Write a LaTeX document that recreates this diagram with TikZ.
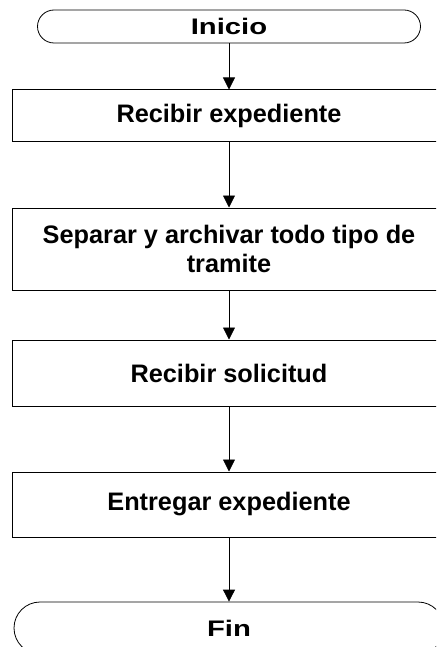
\documentclass[tikz,border=0pt]{standalone}
\usepackage{fontspec}
\setmainfont{Liberation Sans}
\newfontfamily\termfont[FakeStretch=1.3]{Liberation Sans}
\usetikzlibrary{arrows.meta}
\begin{document}
\begin{tikzpicture}[x=1pt, y=1pt, node distance=128pt]
        \tikzstyle{box} = [draw, line width=1pt, rectangle, minimum width=434pt, align=center, font=\fontsize{25.3}{29}\selectfont\bfseries];
        \tikzstyle{term} = [draw, line width=0.8pt, rectangle, font=\termfont\fontsize{22.5}{26}\selectfont\bfseries];
        \tikzstyle{flow} = [-{Triangle[width=12pt, length=12pt]}, line width=0.8pt];

        \useasboundingbox (0,0) rectangle (436,-647);
        \clip (0,0) rectangle (436,-647);

        \node(inicio)[term, rounded corners=16.5pt, minimum width=383pt, minimum height=33pt] at (229,-26.5){Inicio};
        \node(recibir)[box, below of=inicio, yshift=38.5pt, minimum height=52pt]{Recibir expediente};
        \node(separar)[box, below of=recibir, yshift=-5pt, minimum height=82pt]{Separar y archivar todo tipo de\\tramite};
        \node(solicitud)[box, below of=separar, yshift=4pt, minimum height=66pt]{Recibir solicitud};
        \node(entregar)[box, below of=solicitud, yshift=-3.5pt, minimum height=65pt]{Entregar expediente};
        \node(fin)[term, below of=entregar, yshift=4.5pt, rounded corners=26pt, minimum width=430pt, minimum height=52pt]{Fin};

        \draw [flow] (inicio) -- (recibir);
        \draw [flow] (recibir) -- (separar);
        \draw [flow] (separar) -- (solicitud);
        \draw [flow] (solicitud) -- (entregar);
        \draw [flow] (entregar) -- (fin);
    \end{tikzpicture}
\end{document}
